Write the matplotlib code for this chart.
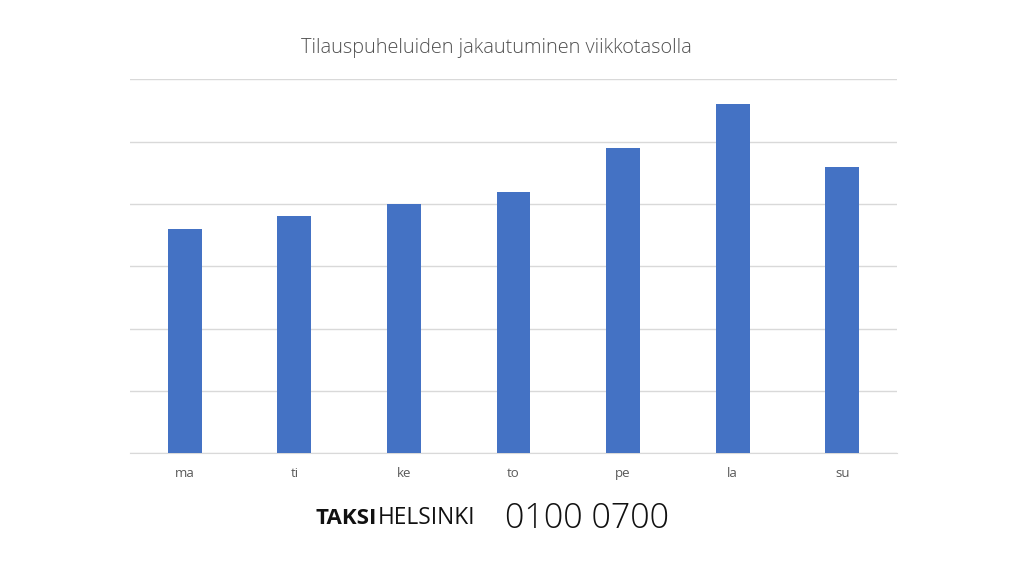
import matplotlib
matplotlib.use("Agg")
import matplotlib.pyplot as plt

plt.rcParams['font.family'] = ['Open Sans', 'DejaVu Sans']

days = ["ma", "ti", "ke", "to", "pe", "la", "su"]
calls = [3.6, 3.8, 4.0, 4.2, 4.9, 5.6, 4.6]
title = "Tilauspuheluiden jakautuminen viikkotasolla"

fig = plt.figure(figsize=(10.24, 5.76), dpi=100)
ax = fig.add_axes([130 / 1024, 1 - 453.3 / 576, 767 / 1024, 374 / 576])

ax.bar(range(len(days)), calls, width=0.31, color="#4472C4", zorder=3)
ax.set_xlim(-0.5, len(days) - 0.5)
ax.set_ylim(0, 6)
ax.set_yticks(range(0, 7))
ax.set_yticklabels([])
ax.tick_params(axis="y", length=0)
ax.set_xticks(range(len(days)))
ax.set_xticklabels(days, color="#595959", fontsize=9.5)
ax.tick_params(axis="x", length=0, pad=10)
ax.grid(axis="y", color="#D9D9D9", linewidth=1, zorder=0)
for s in ["top", "right", "left"]:
    ax.spines[s].set_visible(False)
ax.spines["bottom"].set_color("#D9D9D9")

fig.text(496 / 1024, 1 - 48 / 576, title, ha="center", va="center",
         fontsize=14.3, fontweight="light", color="#505050")

# alatunniste
t1 = fig.text(316 / 1024, 1 - 518 / 576, "TAKSI", ha="left", va="center",
              fontsize=16, fontweight="bold", color="#111111")
r = fig.canvas.get_renderer()
bb = t1.get_window_extent(renderer=r)
fig.text(bb.x1 / 1024, 1 - 518 / 576, "HELSINKI", ha="left", va="center",
         fontsize=16.3, color="#111111")
fig.text(505 / 1024, 1 - 518.5 / 576, "0100 0700", ha="left", va="center",
         fontsize=24.5, fontweight="light", color="#111111")

fig.savefig("out.png", dpi=100)
